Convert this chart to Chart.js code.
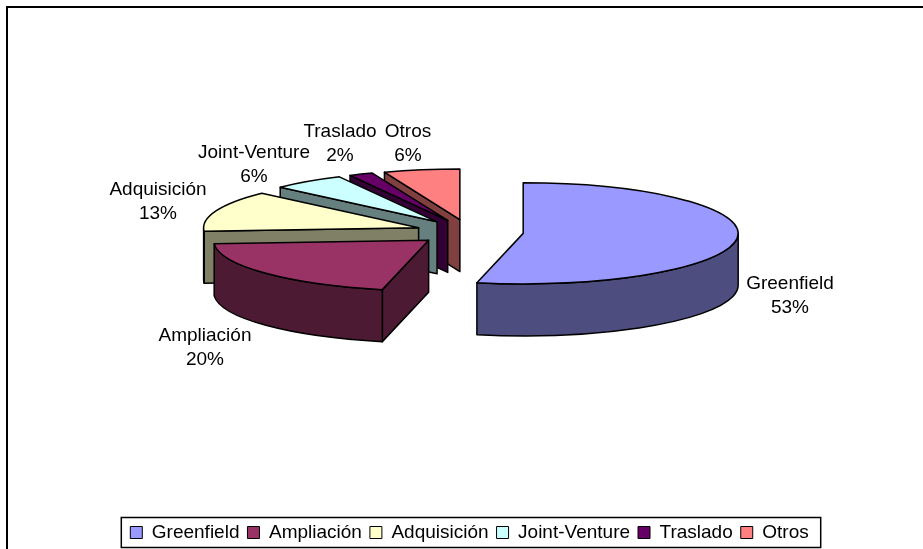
<!DOCTYPE html>
<html>
<head>
<meta charset="utf-8">
<title>Tipos de inversión</title>
<script src="https://cdn.jsdelivr.net/npm/chart.js@4/dist/chart.umd.min.js"></script>
<style>
  html, body { margin: 0; padding: 0; background: #fff; overflow: hidden; }
  canvas { display: block; }
</style>
</head>
<body>
<canvas id="chart" width="923" height="549"></canvas>
<script>
const categories = ["Greenfield", "Ampliación", "Adquisición", "Joint-Venture", "Traslado", "Otros"];
const shares = [53.4, 20.4, 13.1, 5.5, 1.8, 5.7];

const colors = ["#9999FF", "#993366", "#FFFFCC", "#CCFFFF", "#660066", "#FF8080"];
const wallColors = ["#4D4D80", "#4D1A33", "#808066", "#668080", "#330033", "#804040"];
const labelSpots = [[790, 284], [205, 336], [158, 190], [254, 153], [340, 132], [408, 132]];

const FONT = '"Liberation Sans", Arial, sans-serif';
const explode = 54;
const squash = 0.235;
const wallHeight = 52;
const pieCenterY = 232;

//walls first, then the library arc on top, back slices before front ones
const pie3d = {
  id: "pie3d",
  beforeDraw(chart) {
    const ctx = chart.ctx;
    ctx.save();
    ctx.fillStyle = "#fff";
    ctx.fillRect(0, 0, chart.width, chart.height);
    ctx.strokeStyle = "#000";
    ctx.lineWidth = 2;
    ctx.beginPath();
    ctx.moveTo(7, chart.height);
    ctx.lineTo(7, 7);
    ctx.lineTo(chart.width, 7);
    ctx.stroke();
    ctx.restore();
  },
  beforeDatasetsDraw(chart) {
    const ctx = chart.ctx;
    const arcs = chart.getDatasetMeta(0).data;

    for (let i = arcs.length - 1; i >= 0; i--) {
      const arc = arcs[i];
      const a0 = arc.startAngle;
      const a1 = arc.endAngle;
      const mid = (a0 + a1) / 2;
      const r = arc.outerRadius;
      const cx = arc.x + Math.cos(mid) * explode;
      const cy = pieCenterY + Math.sin(mid) * explode * squash;
      const px = (a) => cx + Math.cos(a) * r;
      const py = (a) => cy + Math.sin(a) * r * squash;

      ctx.save();
      ctx.lineWidth = 1.5;
      ctx.lineJoin = "round";
      ctx.strokeStyle = "#000";
      ctx.fillStyle = wallColors[i];

      //cut faces, only the ones turned to the viewer
      const faces = [];
      if (Math.cos(a0) < -0.001) faces.push(a0);
      if (Math.cos(a1) > 0.001) faces.push(a1);
      faces.forEach((a) => {
        ctx.beginPath();
        ctx.moveTo(cx, cy);
        ctx.lineTo(px(a), py(a));
        ctx.lineTo(px(a), py(a) + wallHeight);
        ctx.lineTo(cx, cy + wallHeight);
        ctx.closePath();
        ctx.fill();
        ctx.stroke();
      });

      //the part of the rim that faces the viewer
      const from = Math.max(a0, 0);
      const to = Math.min(a1, Math.PI);
      if (to > from) {
        ctx.beginPath();
        ctx.ellipse(cx, cy, r, r * squash, 0, from, to);
        ctx.lineTo(px(to), py(to) + wallHeight);
        ctx.ellipse(cx, cy + wallHeight, r, r * squash, 0, to, from, true);
        ctx.closePath();
        ctx.fill();
        ctx.stroke();
      }

      //top face, drawn by the arc element itself
      ctx.save();
      ctx.translate(cx, cy);
      ctx.scale(1, squash);
      ctx.translate(-arc.x, -arc.y);
      arc.draw(ctx);
      ctx.restore();

      ctx.beginPath();
      ctx.moveTo(cx, cy);
      ctx.ellipse(cx, cy, r, r * squash, 0, a0, a1);
      ctx.closePath();
      ctx.stroke();
      ctx.restore();
    }
    return false;
  },
  afterDraw(chart) {
    const ctx = chart.ctx;
    ctx.save();
    ctx.fillStyle = "#000";
    ctx.font = "19px " + FONT;
    ctx.textAlign = "center";
    ctx.textBaseline = "middle";
    categories.forEach((name, i) => {
      const [x, y] = labelSpots[i];
      ctx.fillText(name, x, y);
      ctx.fillText(Math.round(shares[i]) + "%", x, y + 23.5);
    });

    //box around the legend
    const hits = chart.legend.legendHitBoxes;
    const left = hits[0].left - 9;
    const last = hits[hits.length - 1];
    const right = last.left + last.width + 12;
    ctx.strokeStyle = "#000";
    ctx.lineWidth = 1.5;
    ctx.strokeRect(left, hits[0].top - 5.5, right - left, hits[0].height + 11);
    ctx.restore();
  },
};

new Chart(document.querySelector("#chart"), {
  type: "pie",
  data: {
    labels: categories,
    datasets: [
      {
        data: shares,
        backgroundColor: colors,
        borderWidth: 0,
        hoverOffset: 0,
      },
    ],
  },
  plugins: [pie3d],
  options: {
    responsive: false,
    animation: false,
    radius: 215,
    layout: { padding: { left: 16, bottom: -3 } },
    plugins: {
      tooltip: { enabled: false },
      legend: {
        position: "bottom",
        labels: {
          boxWidth: 12,
          boxHeight: 12,
          padding: 8,
          color: "#000",
          font: { family: FONT, size: 19, lineHeight: 1 },
          generateLabels(chart) {
            return Chart.overrides.pie.plugins.legend.labels.generateLabels(chart).map((item) => ({
              ...item,
              strokeStyle: "#000",
              lineWidth: 1,
            }));
          },
        },
      },
    },
  },
});
</script>
</body>
</html>
